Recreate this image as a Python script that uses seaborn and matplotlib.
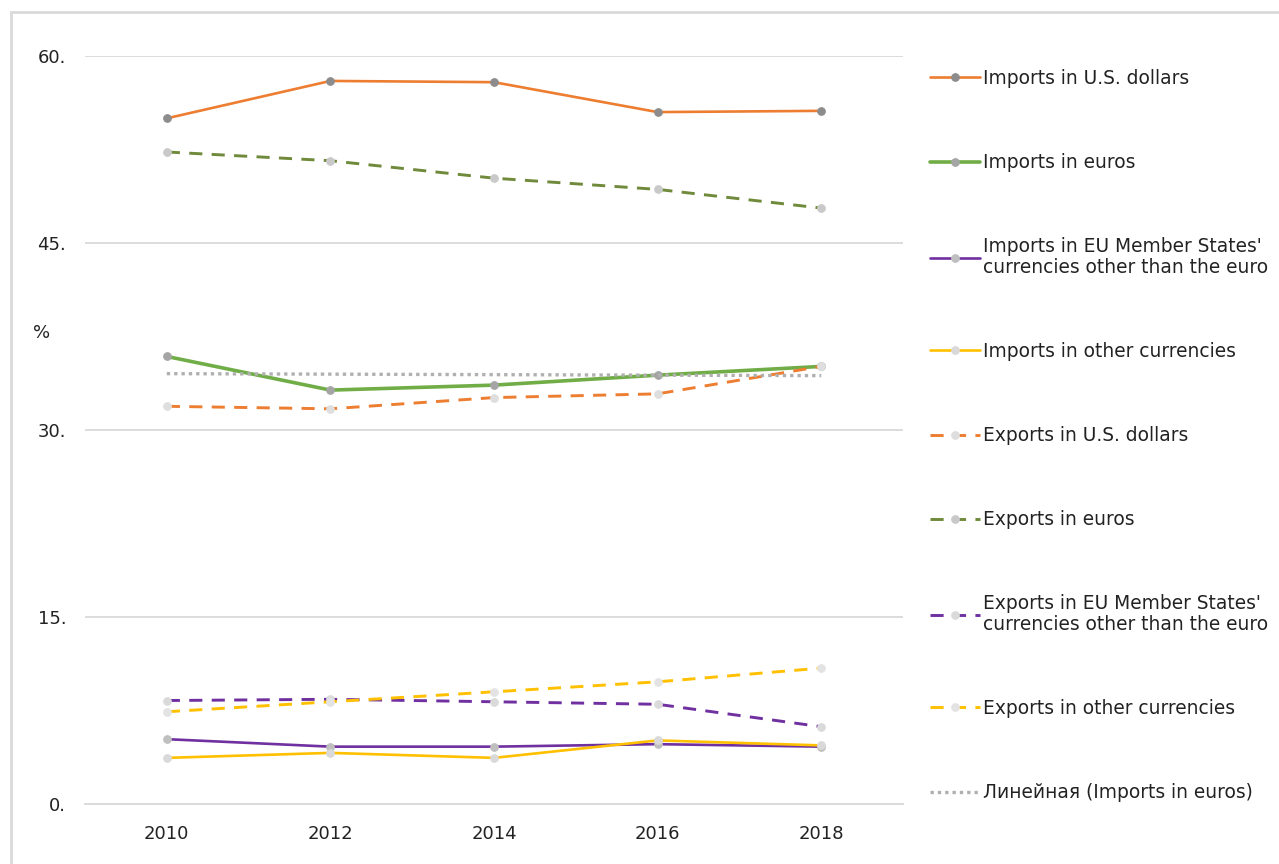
import numpy as np
import pandas as pd
import matplotlib
matplotlib.use("Agg")
import matplotlib.pyplot as plt
from matplotlib.patches import Rectangle
import seaborn as sns

# ---- data ----
years = [2010, 2012, 2014, 2016, 2018]
imp_usd = [55.0, 58.0, 57.9, 55.5, 55.6]
imp_eur = [35.9, 33.2, 33.6, 34.4, 35.1]
imp_eu_other = [5.2, 4.6, 4.6, 4.8, 4.6]
imp_other = [3.7, 4.1, 3.7, 5.1, 4.7]
exp_usd = [31.9, 31.7, 32.6, 32.9, 35.1]
exp_eur = [52.3, 51.6, 50.2, 49.3, 47.8]
exp_eu_other = [8.3, 8.4, 8.2, 8.0, 6.2]
exp_other = [7.4, 8.2, 9.0, 9.8, 10.9]

labels = [
    "Imports in U.S. dollars",
    "Imports in euros",
    "Imports in EU Member States'\ncurrencies other than the euro",
    "Imports in other currencies",
    "Exports in U.S. dollars",
    "Exports in euros",
    "Exports in EU Member States'\ncurrencies other than the euro",
    "Exports in other currencies",
]
trend_label = "Линейная (Imports in euros)"
yticks = [0, 15, 30, 45, 60]

series = [imp_usd, imp_eur, imp_eu_other, imp_other,
          exp_usd, exp_eur, exp_eu_other, exp_other]

# ---- styles ----
colors = ['#ED7D31', '#70AD47', '#7030A0', '#FFC000',
          '#ED7D31', '#6F8A3A', '#7030A0', '#FFC000']
mfcs = ['#8c8c8c', '#a5a5a5', '#bfbfbf', '#d9d9d9',
        '#dedede', '#c9c9c9', '#dadada', '#e3e3e3']
lws = [1.9, 2.6, 1.9, 1.9, 2.1, 2.1, 2.1, 2.1]
dash = (0, (4.5, 3.2))
styles = ['-', '-', '-', '-', dash, dash, dash, dash]

sns.set_style("white")
plt.rcParams['font.family'] = ['DejaVu Sans']

fig = plt.figure(figsize=(12.79, 8.64), dpi=100)
ax = fig.add_axes([85/1279, 1-804/864, (903-85)/1279, (804-56)/864])

for vals, lab, c, mfc, lw, ls in zip(series, labels, colors, mfcs, lws, styles):
    df = pd.DataFrame({"year": years, "value": vals})
    sns.lineplot(data=df, x="year", y="value", ax=ax, color=c, lw=lw,
                 linestyle=ls, marker='o', markersize=5.5,
                 markerfacecolor=mfc, markeredgecolor=mfc, label=lab)

# linear trend of imports in euros
coef = np.polyfit(years, imp_eur, 1)
trend = np.polyval(coef, years)
sns.lineplot(x=years, y=trend, ax=ax, color='#b0b0b0', lw=2.4,
             linestyle=(0, (1, 1.2)), label=trend_label)

ax.set_xlim(2009, 2019)
ax.set_ylim(0, 60)
ax.set_xticks(years)
ax.set_xticklabels([str(y) for y in years])
ax.set_yticks(yticks)
ax.set_yticklabels([f"{v}." for v in yticks])
ax.grid(axis='y', color='#d9d9d9', lw=1.3)
ax.grid(axis='x', visible=False)
for s in ['top', 'right', 'left']:
    ax.spines[s].set_visible(False)
ax.spines['bottom'].set_color('#d9d9d9')
ax.spines['bottom'].set_linewidth(1.3)
ax.tick_params(axis='both', length=0, labelsize=13, colors='#222222')
ax.tick_params(axis='y', pad=13.5)
ax.tick_params(axis='x', pad=15)
ax.set_xlabel("")
ax.set_ylabel("%", rotation=0, fontsize=13, color='#222222', ha='center', va='center')
ax.yaxis.set_label_coords(-0.0526, 37.8/60)

handles, labs = ax.get_legend_handles_labels()
leg = ax.legend(handles, labs, loc='upper left',
                bbox_to_anchor=(930/1279, 1-69/864),
                bbox_transform=fig.transFigure, frameon=False,
                fontsize=13.4, borderpad=0, borderaxespad=0,
                handlelength=2.7, handletextpad=0.15,
                labelspacing=3.5, numpoints=1)
for t in leg.get_texts():
    t.set_linespacing(1.1)
    t.set_color('#222222')

# outer light border
fig.patches.append(Rectangle((11/1279, -0.1), 1.2, (1-12/864)+0.1,
                             transform=fig.transFigure, fill=False,
                             edgecolor='#d9d9d9', lw=2.0))

fig.savefig("out.png", dpi=100, facecolor='white')
